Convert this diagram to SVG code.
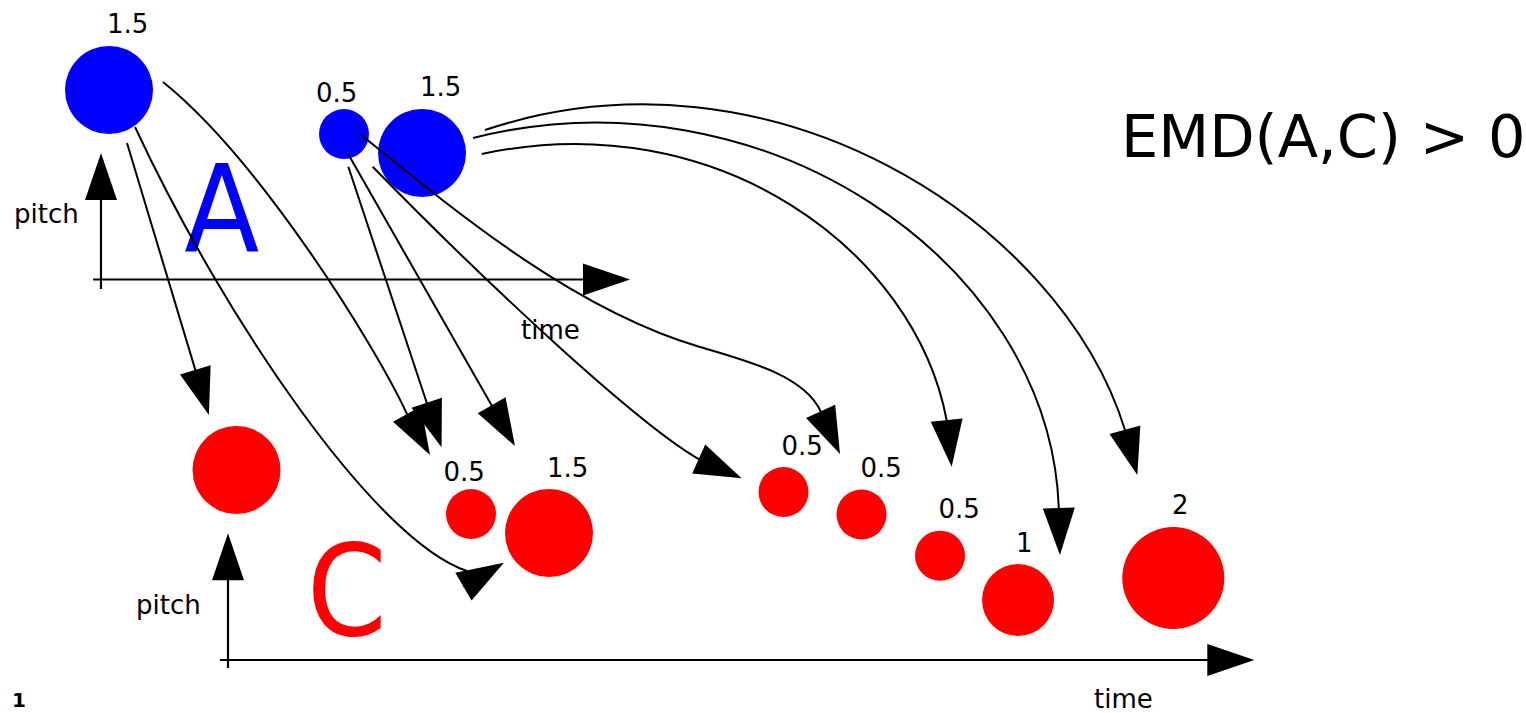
<svg xmlns="http://www.w3.org/2000/svg" width="1526" height="713" viewBox="0 0 1526 713">
<style>
text{font-family:"DejaVu Sans","Liberation Sans",sans-serif;fill:#000}
.lbl{font-size:26px}
.a{fill:#0000ff}
.c{fill:#ff0000}
.ln{fill:none;stroke:#000;stroke-width:2;marker-end:url(#ah)}
.ax{fill:none;stroke:#000;stroke-width:2.2;marker-end:url(#ah)}
</style>
<defs>
<marker id="ah" markerUnits="userSpaceOnUse" markerWidth="48" markerHeight="34" viewBox="0 -17 48 34" refX="37" refY="0" orient="auto" overflow="visible">
<path d="M0,-16 L47,0 L0,16 z" fill="#000"/>
</marker>
</defs>
<rect width="1526" height="713" fill="#fff"/>

<g id="axes-A">
<path class="ax" d="M101,289 L101,163"/>
<path class="ax" d="M93,279.5 L620,279.5"/>
<text class="lbl" x="14" y="223">pitch</text>
<text class="lbl" x="521" y="339">time</text>
<text transform="translate(186,252) scale(0.9,1)" x="-2" y="0" style="font-size:122px;fill:#0000ff">A</text>
</g>
<g id="axes-C">
<path class="ax" d="M228,668 L228,543.3"/>
<path class="ax" d="M220,660 L1244.3,660"/>
<text class="lbl" x="136" y="614">pitch</text>
<text class="lbl" x="1094" y="708">time</text>
<text transform="translate(313,635) scale(0.91,1)" x="-7" y="0" style="font-size:126px;fill:#ff0000">C</text>
</g>

<g id="a1"><circle class="a" cx="109" cy="90" r="44"/><text class="lbl" x="107" y="33">1.5</text></g>
<g id="a2"><circle class="a" cx="344" cy="134" r="25"/><text class="lbl" x="316" y="101.5">0.5</text></g>
<g id="a3"><circle class="a" cx="422" cy="153" r="44"/><text class="lbl" x="420" y="96">1.5</text></g>

<g id="c1"><circle class="c" cx="236.5" cy="470" r="44"/></g>
<g id="c2"><circle class="c" cx="471" cy="514" r="25"/><text class="lbl" x="443.5" y="480.5">0.5</text></g>
<g id="c3"><circle class="c" cx="549" cy="533" r="44"/><text class="lbl" x="547" y="477">1.5</text></g>
<g id="c4"><circle class="c" cx="783.5" cy="492" r="25"/><text class="lbl" x="781.5" y="455">0.5</text></g>
<g id="c5"><circle class="c" cx="861.5" cy="514.5" r="25"/><text class="lbl" x="860.5" y="477">0.5</text></g>
<g id="c6"><circle class="c" cx="940" cy="555.7" r="25"/><text class="lbl" x="938.5" y="518">0.5</text></g>
<g id="c7"><circle class="c" cx="1018" cy="600" r="36"/><text class="lbl" x="1016" y="552">1</text></g>
<g id="c8"><circle class="c" cx="1173.3" cy="578" r="51"/><text class="lbl" x="1172" y="514">2</text></g>

<g id="connectors">
<path class="ln" d="M127,143 L206,405.4"/>
<path class="ln" d="M135,127 C225,320 375,540 467,571 M463.3,586.7 L495.3,567.8"/>
<path class="ln" d="M163,82 C260,160 375,345 407,414 L425.1,446.3"/>
<path class="ln" d="M348.3,166.7 L438.4,437.8"/>
<path class="ln" d="M348.3,154.3 L510,437.4"/>
<path class="ln" d="M372.7,166.7 C500,297 640,425 698.3,458.8 L732.5,474.1"/>
<path class="ln" d="M360,134 C461,216 575,310 700,347 C748,361 805,376 820.8,411.7 L835.9,445"/>
<path class="ln" d="M485,130 C770,35 1060,220 1125,430 L1134.7,465.4"/>
<path class="ln" d="M473,138 C760,65 1050,260 1058.8,508 L1059.7,545"/>
<path class="ln" d="M481.7,154 C716,104 915,250 946.7,420.5 L950.6,456.9"/>
</g>

<text x="1121" y="157" style="font-size:59px">EMD(A,C) &gt; 0</text>
<text x="12" y="707" style="font-size:20px;font-weight:bold">1</text>
</svg>
